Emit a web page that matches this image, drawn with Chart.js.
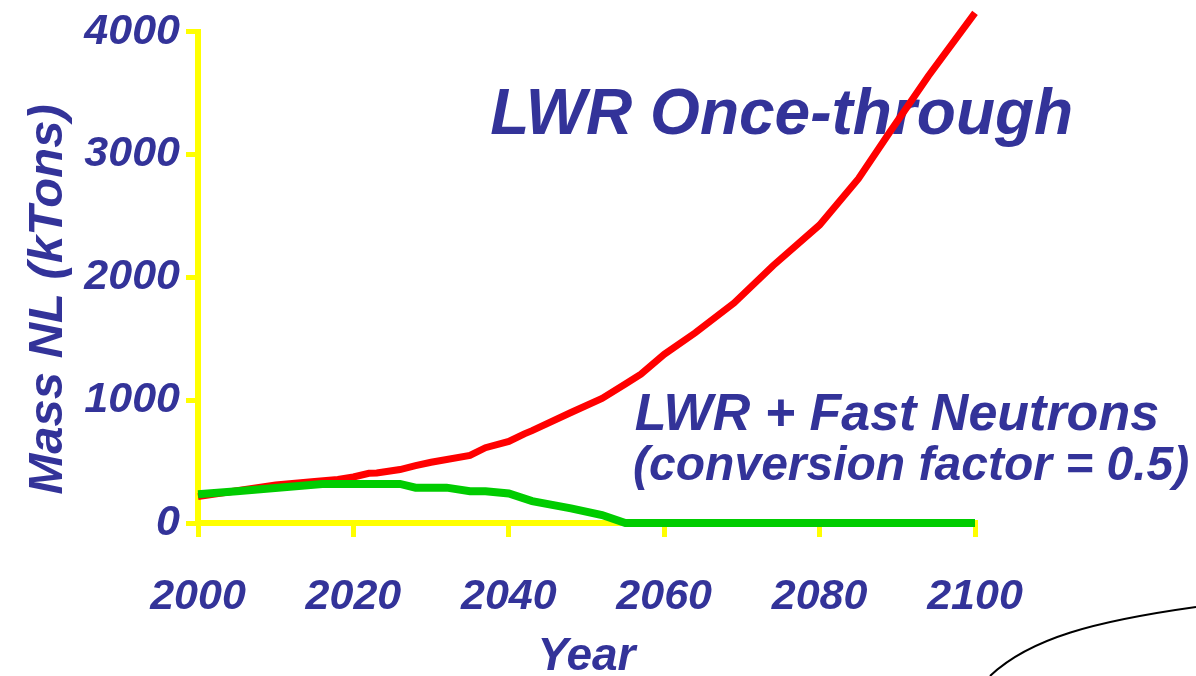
<!DOCTYPE html>
<html><head><meta charset="utf-8">
<script src="https://cdn.jsdelivr.net/npm/chart.js@4/dist/chart.umd.min.js"></script>
<style>html,body{margin:0;padding:0;background:#fff;overflow:hidden}canvas{display:block}</style>
</head><body>
<canvas id="c" width="1196" height="676"></canvas>
<script>
// ---- data ----
const seriesNames = ['LWR Once-through', 'LWR + Fast Neutrons'];
const subNote = '(conversion factor = 0.5)';
const xTitle = 'Year';
const yTitle = 'Mass NL (kTons)';

const onceYears  = [2000, 2005, 2010, 2015, 2018, 2020, 2022, 2023, 2026, 2028, 2030, 2035, 2037, 2040, 2042, 2043, 2048, 2052, 2055, 2057, 2060, 2064, 2069, 2074, 2080, 2085, 2089, 2094, 2100];
const onceValues = [ 215,  262,  310,  338,  355,  375,  405,  408,  435,  467,  495,  550,  613,  664,  726,  752,  900, 1015, 1132, 1212, 1374, 1549, 1792, 2095, 2427, 2804, 3180, 3640, 4154];

const fastYears  = [2000, 2005, 2016, 2026, 2028, 2032, 2035, 2037, 2040, 2043, 2048, 2052, 2055, 2060, 2080, 2100];
const fastValues = [ 235,  259,  318,  318,  288,  288,  259,  259,  240,  178,  119,   65,    0,    0,    0,    0];

const xTickLabels = ['2000', '2020', '2040', '2060', '2080', '2100'];
const yTickLabels = ['0', '1000', '2000', '3000', '4000'];

// ---- styles ----
const FAMILY = "'Liberation Sans', Arial, sans-serif";
const TEXT = '#333399';
const AXIS = '#FFFF00';

const decoPlugin = {
  id: 'deco',
  beforeDatasetsDraw(chart) {
    const {ctx, chartArea, scales: {x, y}} = chart;
    ctx.save();
    ctx.fillStyle = TEXT;
    ctx.textAlign = 'left';
    ctx.textBaseline = 'alphabetic';
    ctx.font = 'italic bold 64px ' + FAMILY;
    ctx.fillText(seriesNames[0], x.getPixelForValue(2037.6), y.getPixelForValue(3166));
    ctx.font = 'italic bold 52px ' + FAMILY;
    ctx.fillText(seriesNames[1], x.getPixelForValue(2056.2), y.getPixelForValue(761));
    ctx.font = 'italic bold 48px ' + FAMILY;
    ctx.fillText(subNote, x.getPixelForValue(2056.0), y.getPixelForValue(348));
    // y axis title
    ctx.translate(chartArea.left - 136, (chartArea.top + chartArea.bottom) / 2 + 22);
    ctx.rotate(-Math.PI / 2);
    ctx.textAlign = 'center';
    ctx.font = 'italic bold 49px ' + FAMILY;
    ctx.fillText(yTitle, 0, 0);
    ctx.restore();
  },
  afterDraw(chart) {
    const {ctx, width, height} = chart;
    ctx.save();
    ctx.strokeStyle = '#000';
    ctx.lineWidth = 2;
    ctx.beginPath();
    ctx.moveTo(width - 206, height);
    ctx.bezierCurveTo(width - 166, height - 38, width - 100, height - 55, width, height - 69);
    ctx.stroke();
    ctx.restore();
  }
};

new Chart(document.getElementById('c'), {
  type: 'line',
  data: {
    datasets: [
      {
        label: seriesNames[1],
        data: fastYears.map((yr, i) => ({x: yr, y: fastValues[i]})),
        borderColor: '#00CC00',
        borderWidth: 8,
        pointRadius: 0,
        tension: 0,
        clip: false,
        order: 0
      },
      {
        label: seriesNames[0],
        data: onceYears.map((yr, i) => ({x: yr, y: onceValues[i]})),
        borderColor: '#FF0000',
        borderWidth: 7,
        pointRadius: 0,
        tension: 0,
        clip: false,
        order: 1
      }
    ]
  },
  options: {
    responsive: false,
    devicePixelRatio: 1,
    animation: false,
    layout: {padding: {top: 29, right: 221, bottom: 0, left: 0}},
    plugins: {legend: {display: false}, tooltip: {enabled: false}},
    scales: {
      x: {
        type: 'linear',
        min: 2000, max: 2100,
        afterFit(s) { s.height = 153; },
        ticks: {
          stepSize: 20,
          padding: 34,
          color: TEXT,
          font: {family: FAMILY, size: 43, weight: 'bold', style: 'italic'},
          callback: (v) => xTickLabels[(v - 2000) / 20] ?? ''
        },
        grid: {drawOnChartArea: false, drawTicks: true, tickLength: 14, color: AXIS, lineWidth: 5},
        border: {display: true, color: AXIS, width: 6},
        title: {
          display: true, text: xTitle, color: TEXT,
          font: {family: FAMILY, size: 46, weight: 'bold', style: 'italic', lineHeight: 0.8},
          padding: {top: 0, bottom: 0}
        }
      },
      y: {
        type: 'linear',
        min: 0, max: 4000,
        afterFit(s) { s.width = 198; },
        ticks: {
          stepSize: 1000,
          padding: 6,
          color: TEXT,
          font: {family: FAMILY, size: 43, weight: 'bold', style: 'italic'},
          callback: (v) => yTickLabels[v / 1000] ?? ''
        },
        grid: {drawOnChartArea: false, drawTicks: true, tickLength: 12, color: AXIS, lineWidth: 5},
        border: {display: true, color: AXIS, width: 6}
      }
    }
  },
  plugins: [decoPlugin]
});
</script>
</body></html>
